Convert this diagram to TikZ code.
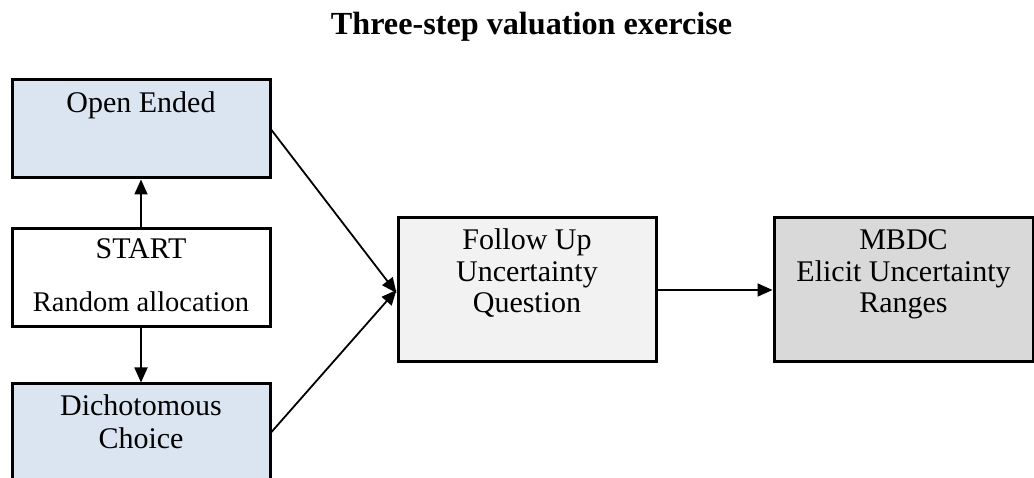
\documentclass[tikz,border=0pt]{standalone}
\usepackage{fontspec}
\setmainfont{Liberation Serif}
\usetikzlibrary{arrows.meta}
\definecolor{paleblue}{HTML}{DBE5F1}
\definecolor{palegrey}{HTML}{F2F2F2}
\definecolor{midgrey}{HTML}{D9D9D9}
\tikzset{
  stagebox/.style={draw=black, line width=3pt, rectangle, inner sep=0pt},
  boxtext/.style={font=\fontsize{30}{31.5}\selectfont, align=center, inner sep=0pt, anchor=base},
  flow/.style={line width=1.8pt, -{Triangle[length=15pt,width=13pt]}},
}
\begin{document}
\begin{tikzpicture}[x=1pt, y=-1pt]
\useasboundingbox (0,0) rectangle (1034,478);
\clip (0,0) rectangle (1034,478);

% title
\node[font=\fontsize{32.2}{38}\selectfont\bfseries, anchor=base] (title) at (531.5,35) {Three-step valuation exercise};

% boxes
\node[stagebox, fill=paleblue, minimum width=258pt, minimum height=98pt] (open) at (141,129) {};
\node[stagebox, fill=white, minimum width=258pt, minimum height=98pt] (start) at (141,278) {};
\node[stagebox, fill=paleblue, minimum width=258pt, minimum height=120pt] (dich) at (141,444) {};
\node[stagebox, fill=palegrey, minimum width=258pt, minimum height=144pt] (follow) at (527,290) {};
\node[stagebox, fill=midgrey, minimum width=259pt, minimum height=144pt] (mbdc) at (903.5,290) {};

% box texts (a multi-line node sits on the baseline of its last line)
\node[boxtext] (opent) at (141,113) {Open Ended};
\node[boxtext] (startt) at (141,259) {START};
\node[boxtext, font=\fontsize{28.5}{31.5}\selectfont] (randt) at (141,312) {Random allocation};
\node[boxtext, font=\fontsize{30}{32.5}\selectfont] (dicht) at (141,448) {Dichotomous\\Choice};
\node[boxtext] (followt) at (527,313) {Follow Up\\Uncertainty\\Question};
\node[boxtext] (mbdct) at (903.5,313) {MBDC\\Elicit Uncertainty\\Ranges};

% connectors
\draw[flow] (start.north) -- (open.south);
\draw[flow] (start.south) -- (dich.north);
\draw[flow] (open.east |- 0,130) -- ([yshift=-3pt]follow.west);
\draw[flow] (dich.east |- 0,432) -- (follow.west);
\draw[flow] (follow.east) -- (mbdc.west);
\end{tikzpicture}
\end{document}
